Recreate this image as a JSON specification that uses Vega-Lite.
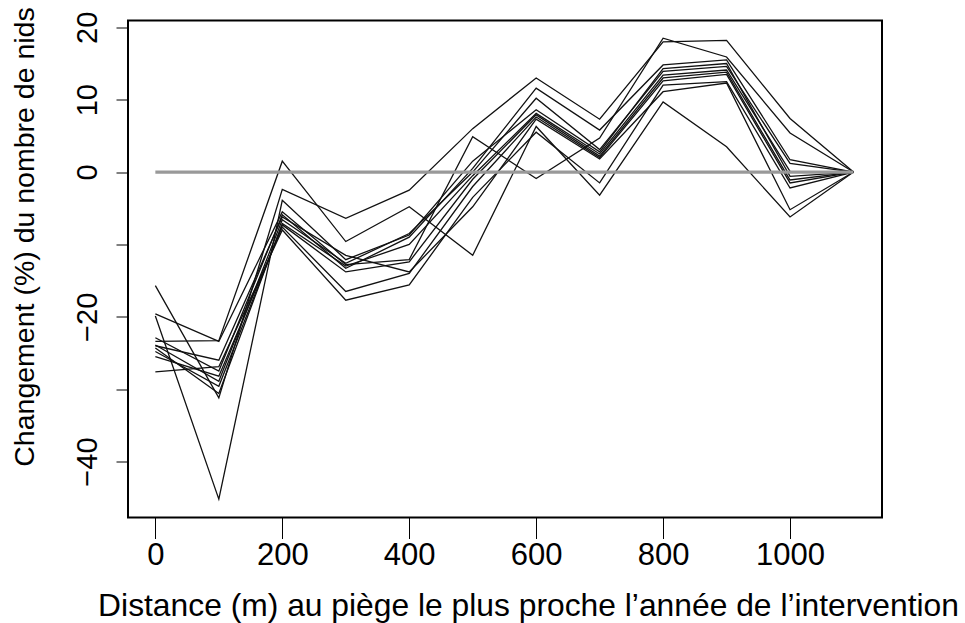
{
  "$schema": "https://vega.github.io/schema/vega-lite/v6.json",
  "autosize": "none",
  "width": 754,
  "height": 497,
  "padding": {"left": 128, "top": 20.5, "right": 83, "bottom": 105.5},
  "background": "white",
  "config": {
    "view": {"stroke": "black", "strokeWidth": 2},
    "axis": {"grid": false, "domain": false, "tickColor": "black", "labelColor": "black", "titleColor": "black", "labelFont": "Liberation Sans", "titleFont": "Liberation Sans", "titleFontWeight": "normal"}
  },
  "datasets": {
    "zero": [{"x": 0, "y": 0}, {"x": 1100, "y": 0}]
  },
  "data": {"values": [
    {"id":1,"x":0,"y":-19.9},{"id":1,"x":100,"y":-45.2},{"id":1,"x":200,"y":-3.9},{"id":1,"x":300,"y":-12.1},{"id":1,"x":400,"y":-8.7},{"id":1,"x":500,"y":1.5},{"id":1,"x":600,"y":8.6},{"id":1,"x":700,"y":2.8},{"id":1,"x":800,"y":14.3},{"id":1,"x":900,"y":15.0},{"id":1,"x":1000,"y":-0.6},{"id":1,"x":1100,"y":0},
    {"id":2,"x":0,"y":-23.4},{"id":2,"x":100,"y":-23.3},{"id":2,"x":200,"y":1.5},{"id":2,"x":300,"y":-9.6},{"id":2,"x":400,"y":-4.8},{"id":2,"x":500,"y":-11.5},{"id":2,"x":600,"y":6.3},{"id":2,"x":700,"y":-3.2},{"id":2,"x":800,"y":9.7},{"id":2,"x":900,"y":3.5},{"id":2,"x":1000,"y":-6.2},{"id":2,"x":1100,"y":0},
    {"id":3,"x":0,"y":-15.7},{"id":3,"x":100,"y":-31.2},{"id":3,"x":200,"y":-2.4},{"id":3,"x":300,"y":-6.4},{"id":3,"x":400,"y":-2.5},{"id":3,"x":500,"y":6.0},{"id":3,"x":600,"y":13.0},{"id":3,"x":700,"y":7.3},{"id":3,"x":800,"y":18.0},{"id":3,"x":900,"y":18.2},{"id":3,"x":1000,"y":7.4},{"id":3,"x":1100,"y":0},
    {"id":4,"x":0,"y":-19.6},{"id":4,"x":100,"y":-23.4},{"id":4,"x":200,"y":-5.5},{"id":4,"x":300,"y":-12.8},{"id":4,"x":400,"y":-12.1},{"id":4,"x":500,"y":4.9},{"id":4,"x":600,"y":-0.9},{"id":4,"x":700,"y":4.7},{"id":4,"x":800,"y":18.5},{"id":4,"x":900,"y":15.9},{"id":4,"x":1000,"y":5.4},{"id":4,"x":1100,"y":0},
    {"id":5,"x":0,"y":-22.9},{"id":5,"x":100,"y":-27.5},{"id":5,"x":200,"y":-5.9},{"id":5,"x":300,"y":-13.3},{"id":5,"x":400,"y":-9.0},{"id":5,"x":500,"y":0.5},{"id":5,"x":600,"y":11.6},{"id":5,"x":700,"y":5.8},{"id":5,"x":800,"y":14.8},{"id":5,"x":900,"y":15.5},{"id":5,"x":1000,"y":1.7},{"id":5,"x":1100,"y":0},
    {"id":6,"x":0,"y":-23.9},{"id":6,"x":100,"y":-28.9},{"id":6,"x":200,"y":-6.6},{"id":6,"x":300,"y":-12.6},{"id":6,"x":400,"y":-8.5},{"id":6,"x":500,"y":0.0},{"id":6,"x":600,"y":10.2},{"id":6,"x":700,"y":3.1},{"id":6,"x":800,"y":13.9},{"id":6,"x":900,"y":14.6},{"id":6,"x":1000,"y":1.2},{"id":6,"x":1100,"y":0},
    {"id":7,"x":0,"y":-24.3},{"id":7,"x":100,"y":-30.6},{"id":7,"x":200,"y":-7.1},{"id":7,"x":300,"y":-13.0},{"id":7,"x":400,"y":-10.0},{"id":7,"x":500,"y":-0.5},{"id":7,"x":600,"y":8.1},{"id":7,"x":700,"y":2.5},{"id":7,"x":800,"y":13.4},{"id":7,"x":900,"y":14.1},{"id":7,"x":1000,"y":0.1},{"id":7,"x":1100,"y":0},
    {"id":8,"x":0,"y":-24.8},{"id":8,"x":100,"y":-29.6},{"id":8,"x":200,"y":-7.3},{"id":8,"x":300,"y":-13.8},{"id":8,"x":400,"y":-12.4},{"id":8,"x":500,"y":-1.0},{"id":8,"x":600,"y":7.9},{"id":8,"x":700,"y":2.2},{"id":8,"x":800,"y":13.0},{"id":8,"x":900,"y":13.8},{"id":8,"x":1000,"y":-1.1},{"id":8,"x":1100,"y":0},
    {"id":9,"x":0,"y":-25.5},{"id":9,"x":100,"y":-28.2},{"id":9,"x":200,"y":-7.6},{"id":9,"x":300,"y":-16.5},{"id":9,"x":400,"y":-14.0},{"id":9,"x":500,"y":-2.0},{"id":9,"x":600,"y":7.6},{"id":9,"x":700,"y":2.0},{"id":9,"x":800,"y":12.6},{"id":9,"x":900,"y":13.5},{"id":9,"x":1000,"y":-1.5},{"id":9,"x":1100,"y":0},
    {"id":10,"x":0,"y":-27.6},{"id":10,"x":100,"y":-26.9},{"id":10,"x":200,"y":-8.0},{"id":10,"x":300,"y":-17.7},{"id":10,"x":400,"y":-15.6},{"id":10,"x":500,"y":-3.5},{"id":10,"x":600,"y":5.5},{"id":10,"x":700,"y":-1.5},{"id":10,"x":800,"y":12.0},{"id":10,"x":900,"y":12.5},{"id":10,"x":1000,"y":-2.2},{"id":10,"x":1100,"y":0},
    {"id":11,"x":0,"y":-24.0},{"id":11,"x":100,"y":-26.0},{"id":11,"x":200,"y":-6.2},{"id":11,"x":300,"y":-11.5},{"id":11,"x":400,"y":-13.8},{"id":11,"x":500,"y":-4.8},{"id":11,"x":600,"y":7.3},{"id":11,"x":700,"y":1.8},{"id":11,"x":800,"y":11.1},{"id":11,"x":900,"y":12.3},{"id":11,"x":1000,"y":-5.2},{"id":11,"x":1100,"y":0}
  ]},
  "encoding": {
    "x": {"field": "x", "type": "quantitative",
      "scale": {"domain": [-43.1, 1144.9], "nice": false, "zero": false},
      "axis": {"values": [0, 200, 400, 600, 800, 1000], "format": "d", "tickSize": 21, "tickWidth": 1, "labelFontSize": 31, "labelPadding": 2,
        "title": "Distance (m) au piège le plus proche l’année de l’intervention", "titleFontSize": 31.8, "titlePadding": 20, "titleX": 400}},
    "y": {"field": "y", "type": "quantitative",
      "scale": {"domain": [-47.73, 20.94], "nice": false, "zero": false},
      "axis": {"values": [-40, -30, -20, -10, 0, 10, 20], "tickSize": 12, "tickWidth": 1, "labelFontSize": 29, "labelAngle": -90, "labelAlign": "center", "labelBaseline": "bottom", "labelPadding": 14,
        "labelExpr": "datum.value == -10 || datum.value == -30 ? '' : replace(datum.label, '-', '−')",
        "title": "Changement (%) du nombre de nids", "titleFontSize": 28.5, "titlePadding": 34, "titleY": 216}}
  },
  "layer": [
    {"mark": {"type": "line", "color": "#111111", "strokeWidth": 1.3}, "encoding": {"detail": {"field": "id", "type": "nominal"}}},
    {"data": {"name": "zero"}, "mark": {"type": "line", "color": "#999999", "strokeWidth": 3.3}, "encoding": {}}
  ]
}
